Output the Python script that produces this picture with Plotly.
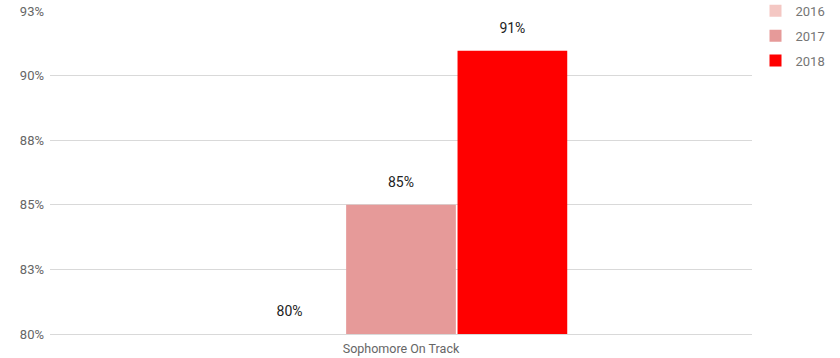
import plotly.graph_objects as go

categories = ["Sophomore On Track"]
years = ["2016", "2017", "2018"]
values_2016 = [80.0]
values_2017 = [85.2]
values_2018 = [91.4]
tick_vals = [80, 82.6, 85.2, 87.8, 90.4, 93]
tick_text = ["80%", "83%", "85%", "88%", "90%", "93%"]

colors = {"2016": "#f4c7c3", "2017": "#e69a99", "2018": "#ff0000"}
series = {"2016": values_2016, "2017": values_2017, "2018": values_2018}

fig = go.Figure()
for yr in years:
    fig.add_trace(go.Bar(
        x=categories, y=series[yr], name=yr, legendgroup=yr,
        marker=dict(color=colors[yr], line=dict(width=0)),
        texttemplate="<span style='font-size:14px'>%{y:.0f}%</span><br> ",
        textposition="outside",
        textfont=dict(family="Roboto, Arial, sans-serif", size=10, color="#222222"),
        cliponaxis=False,
    ))

fig.update_layout(
    width=840, height=358,
    margin=dict(l=50, r=88, t=11, b=24, autoexpand=False),
    paper_bgcolor="white", plot_bgcolor="white",
    barmode="group", bargap=0.524, bargroupgap=0.015,
    font=dict(family="Roboto, Arial, sans-serif", size=12, color="#666666"),
    showlegend=True,
    legend=dict(x=1.005, y=1.047, xanchor="left", yanchor="top",
                font=dict(size=13, color="#757575"), tracegroupgap=5,
                itemwidth=30),
)
fig.update_yaxes(range=[80, 93], tickvals=tick_vals, ticktext=tick_text,
                 showgrid=True, gridcolor="#d9d9d9", gridwidth=1,
                 zeroline=False, showline=False, ticks="", automargin=False,
                 ticklabelstandoff=5,
                 tickfont=dict(size=13, color="#666666"))
fig.update_xaxes(showline=True, linecolor="#d9d9d9", ticks="", automargin=False,
                 ticklabelstandoff=3,
                 tickfont=dict(size=12.5, color="#666666"))

fig.write_html("out.html")
